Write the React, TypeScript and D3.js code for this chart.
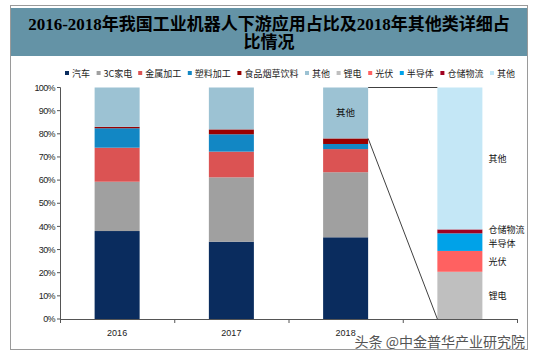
import React from "react";
import * as d3 from "d3";

const categories = ["2016", "2017", "2018", "detail"];
const xLabels = ["2016", "2017", "2018", ""];

const seriesNames = ["汽车", "3C家电", "金属加工", "塑料加工", "食品烟草饮料", "其他", "锂电", "光伏", "半导体", "仓储物流", "其他2"];
const legendLabels = ["汽车", "3C家电", "金属加工", "塑料加工", "食品烟草饮料", "其他", "锂电", "光伏", "半导体", "仓储物流", "其他"];
const seriesColors = ["#0A2C5E", "#A0A0A0", "#DB5353", "#1287C4", "#990000", "#9CC2D3", "#BFBFBF", "#FF6161", "#00A2E8", "#A00020", "#C4E7F6"];

const car = [38.0, 33.4, 35.3, 0];
const appliance3C = [21.3, 27.8, 28.1, 0];
const metal = [14.7, 11.1, 10.0, 0];
const plastic = [8.4, 7.5, 2.2, 0];
const food = [0.6, 2.1, 2.4, 0];
const other = [17.0, 18.1, 22.0, 0];
const lithium = [0, 0, 0, 20.4];
const pv = [0, 0, 0, 9.0];
const semi = [0, 0, 0, 7.6];
const logistics = [0, 0, 0, 1.7];
const other2 = [0, 0, 0, 61.3];

const seriesValues = [car, appliance3C, metal, plastic, food, other, lithium, pv, semi, logistics, other2];

const yTicks = [0, 10, 20, 30, 40, 50, 60, 70, 80, 90, 100];

const W = 535;
const H = 360;
const plot = { left: 60, right: 517, top: 87.5, bottom: 319 };

export default function App() {
  const x = d3
    .scaleBand<string>()
    .domain(categories)
    .range([plot.left, plot.right])
    .paddingInner(0.606)
    .paddingOuter(0.303);
  const y = d3.scaleLinear().domain([0, 100]).range([plot.bottom, plot.top]);

  const rows = categories.map((c, i) => {
    const r: any = { cat: c };
    seriesNames.forEach((s, j) => (r[s] = seriesValues[j][i]));
    return r;
  });
  const stacked = d3.stack<any>().keys(seriesNames)(rows);

  const step = x.step();
  const boundaries = categories.map((_, i) => plot.left + i * step).concat([plot.right]);

  // legend layout
  const charW = (s: string) =>
    Array.from(s).reduce((a, ch) => a + (/[\x00-\x7f]/.test(ch) ? 5 : 9), 0);
  let lx = 65;
  const legendItems = legendLabels.map((l, i) => {
    const item = { x: lx, label: l, color: seriesColors[i] };
    lx += 4 + 3 + charW(l) + 6.6;
    return item;
  });

  const b2018 = x("2018")!;
  const bDetail = x("detail")!;
  const bw = x.bandwidth();
  const cum2018Food = car[2] + appliance3C[2] + metal[2] + plastic[2] + food[2];

  const detailKeys = [6, 7, 8, 9, 10];
  const detailNudge: Record<number, number> = { 8: 1.5, 9: -1.5 };

  return (
    <svg
      width={W}
      height={H}
      style={{ position: "absolute", left: 0, top: 0, background: "#fff" }}
      fontFamily="'Liberation Sans', Arial, 'Noto Sans CJK SC', sans-serif"
    >
      <rect x={0} y={0} width={W} height={H} fill="#fff" />
      {/* frame */}
      <rect x={10.5} y={5.5} width={517} height={344} fill="none" stroke="#9A9A9A" strokeWidth={1} />
      {/* title band */}
      <rect x={11} y={8} width={516} height={48} fill="#6493A6" />
      <text
        x={269}
        y={30}
        textAnchor="middle"
        fontFamily="'Liberation Serif', 'Noto Sans CJK SC', serif"
        fontWeight="bold"
        fontSize={17}
        fill="#000"
      >
        2016-2018年我国工业机器人下游应用占比及2018年其他类详细占
      </text>
      <text
        x={269}
        y={48}
        textAnchor="middle"
        fontFamily="'Liberation Serif', 'Noto Sans CJK SC', serif"
        fontWeight="bold"
        fontSize={17}
        fill="#000"
      >
        比情况
      </text>

      {/* legend */}
      {legendItems.map((it, i) => (
        <g key={i}>
          <rect x={it.x} y={71} width={4} height={4} fill={it.color} />
          <text
            x={it.x + 7}
            y={76.5}
            fontSize={9}
            fontFamily="'Noto Sans CJK SC', sans-serif"
            fill="#222"
          >
            {it.label}
          </text>
        </g>
      ))}

      {/* bars */}
      {stacked.map((layer, j) => (
        <g key={j} fill={seriesColors[j]}>
          {layer.map((d, i) =>
            d[1] - d[0] > 0 ? (
              <rect
                key={i}
                x={x(categories[i])!}
                y={y(d[1])}
                width={bw}
                height={y(d[0]) - y(d[1])}
              />
            ) : null
          )}
        </g>
      ))}

      {/* connectors */}
      <line x1={b2018 + bw} y1={y(100)} x2={bDetail} y2={y(100)} stroke="#404040" strokeWidth={1} />
      <line x1={b2018 + bw} y1={y(cum2018Food)} x2={bDetail} y2={y(0)} stroke="#404040" strokeWidth={1} />

      {/* label inside 2018 bar */}
      <text
        x={b2018 + bw / 2}
        y={y((cum2018Food + 100) / 2) + 3.5}
        textAnchor="middle"
        fontSize={9.5}
        fontFamily="'Noto Sans CJK SC', sans-serif"
        fill="#111"
      >
        其他
      </text>

      {/* labels beside detail bar */}
      {detailKeys.map((j) => {
        const d = stacked[j][3];
        return (
          <text
            key={j}
            x={bDetail + bw + 6}
            y={y((d[0] + d[1]) / 2) + 3.2 + (detailNudge[j] || 0)}
            fontSize={9}
            fontFamily="'Noto Sans CJK SC', sans-serif"
            fill="#111"
          >
            {legendLabels[j]}
          </text>
        );
      })}

      {/* y axis */}
      <line x1={plot.left + 0.5} y1={y(100)} x2={plot.left + 0.5} y2={y(0)} stroke="#555" />
      {yTicks.map((t) => (
        <g key={t}>
          <line x1={plot.left - 3} x2={plot.left + 0.5} y1={y(t)} y2={y(t)} stroke="#555" />
          <text
            x={plot.left - 5}
            y={y(t) + 3.2}
            textAnchor="end"
            fontSize={9}
            letterSpacing={-0.6}
            fill="#222"
          >
            {t}%
          </text>
        </g>
      ))}

      {/* x axis */}
      <line x1={plot.left} y1={plot.bottom + 0.5} x2={plot.right} y2={plot.bottom + 0.5} stroke="#555" />
      {boundaries.map((b, i) => (
        <line key={i} x1={b + 0.5} x2={b + 0.5} y1={plot.bottom} y2={plot.bottom + 4} stroke="#555" />
      ))}
      {categories.map((c, i) => (
        <text
          key={c}
          x={x(c)! + bw / 2}
          y={plot.bottom + 17}
          textAnchor="middle"
          fontSize={9}
          fill="#222"
        >
          {xLabels[i]}
        </text>
      ))}

      {/* watermark */}
      <text
        x={525}
        y={347}
        textAnchor="end"
        fontSize={14}
        fontFamily="'Noto Sans CJK SC', sans-serif"
        fill="#555"
        stroke="#fff"
        strokeWidth={0.6}
        paintOrder="stroke"
      >
        头条 @中金普华产业研究院
      </text>
    </svg>
  );
}
